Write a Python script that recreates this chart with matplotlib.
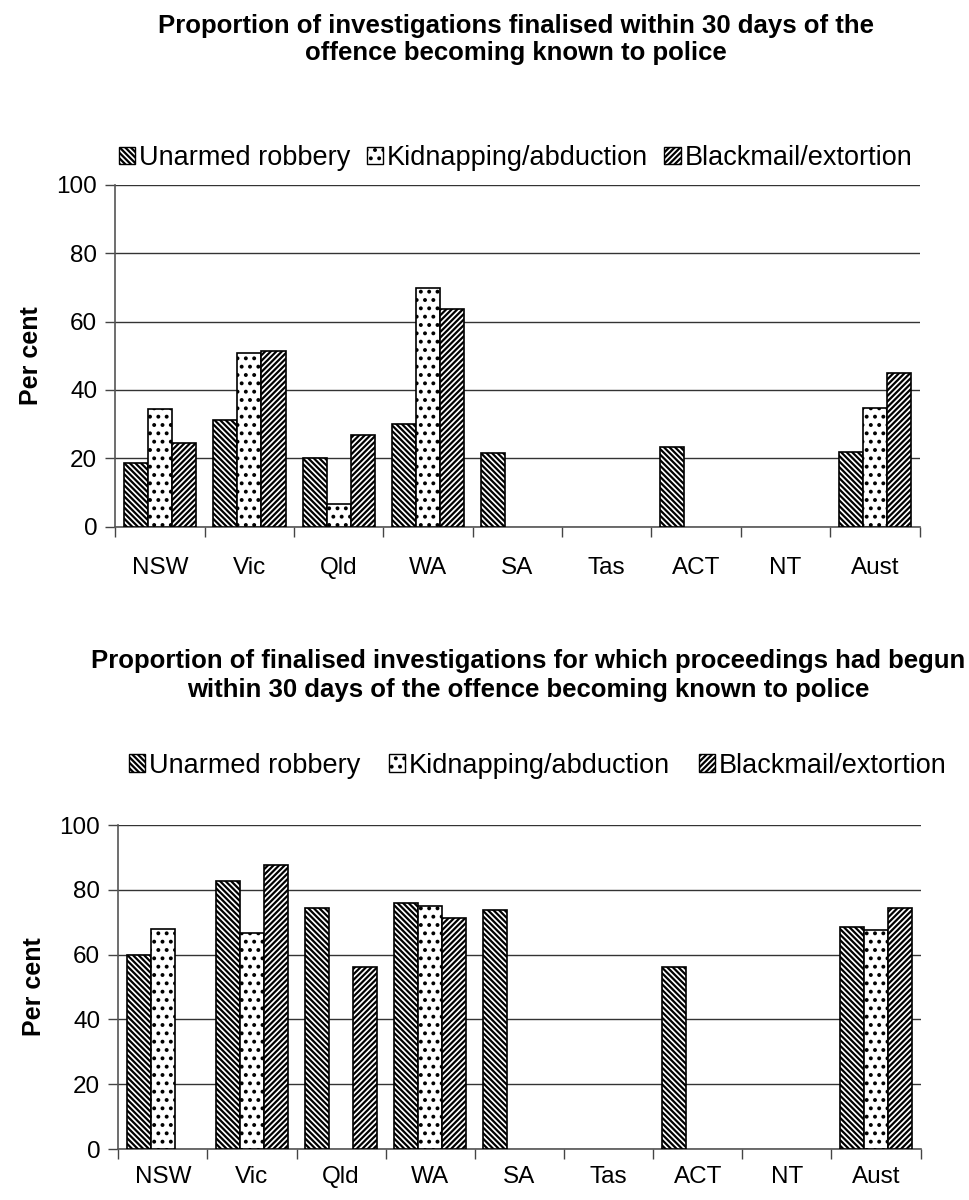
import numpy as np
import matplotlib
matplotlib.use("Agg")
import matplotlib.pyplot as plt
from matplotlib.patches import Patch

plt.rcParams["font.family"] = ["Liberation Sans", "DejaVu Sans"]
plt.rcParams["hatch.linewidth"] = 1.6

STATES = ["NSW", "Vic", "Qld", "WA", "SA", "Tas", "ACT", "NT", "Aust"]
SERIES = ["Unarmed robbery", "Kidnapping/abduction", "Blackmail/extortion"]
HATCHES = ["\\\\\\\\\\\\", "..", "//////"]

nan = np.nan

# proportion of investigations finalised within 30 days
finalised_unarmed = [18.8, 31.2, 20.2, 30.0, 21.5, nan, 23.4, nan, 22.0]
finalised_kidnap = [34.3, 50.9, 6.8, 69.8, nan, nan, nan, nan, 34.7]
finalised_blackmail = [24.4, 51.3, 26.8, 63.6, nan, nan, nan, nan, 44.9]

# proportion of finalised investigations with proceedings begun within 30 days
proceedings_unarmed = [59.8, 82.6, 74.5, 75.9, 73.7, nan, 56.2, nan, 68.4]
proceedings_kidnap = [67.8, 66.6, nan, 74.9, nan, nan, nan, nan, 67.5]
proceedings_blackmail = [nan, 87.6, 56.2, 71.4, nan, nan, nan, nan, 74.3]

TITLE_TOP = "Proportion of investigations finalised within 30 days of the\noffence becoming known to police"
TITLE_BOTTOM = ("Proportion of finalised investigations for which proceedings had begun\n"
                "within 30 days of the offence becoming known to police")


def draw_panel(ax, data, label_pad):
    x = np.arange(len(STATES))
    width = 0.27
    for i, (vals, hatch) in enumerate(zip(data, HATCHES)):
        ax.bar(x + (i - 1) * width, vals, width, facecolor="white",
               edgecolor="black", linewidth=1.2, hatch=hatch, zorder=3)
    ax.set_xlim(-0.5, len(STATES) - 0.5)
    ax.set_ylim(0, 100)
    ax.set_yticks(range(0, 101, 20))
    ax.set_xticks(x)
    ax.set_xticklabels(STATES, fontsize=17.5)
    ax.set_xticks(np.arange(-0.5, len(STATES)), minor=True)
    ax.tick_params(axis="x", which="major", length=0, pad=label_pad)
    ax.tick_params(axis="x", which="minor", length=7, width=1, color="#444444")
    ax.tick_params(axis="y", labelsize=17.5, length=7, width=1, color="#444444", pad=6)
    ax.yaxis.grid(True, color="#333333", linewidth=1.0, zorder=0)
    ax.set_axisbelow(True)
    for side in ["top", "right"]:
        ax.spines[side].set_visible(False)
    for side in ["left", "bottom"]:
        ax.spines[side].set_color("#555555")
        ax.spines[side].set_linewidth(1.2)
    ax.set_ylabel("Per cent", fontsize=18, fontweight="bold", labelpad=10)

    handles = [Patch(facecolor="white", edgecolor="black", hatch=h, label=s)
               for s, h in zip(SERIES, HATCHES)]
    return handles


fig = plt.figure(figsize=(9.69, 12), dpi=100)

ax1 = fig.add_axes([0.119, 0.561, 0.830, 0.285])
h = draw_panel(ax1, [finalised_unarmed, finalised_kidnap, finalised_blackmail], 22)
fig.text(0.532, 0.988, TITLE_TOP, ha="center", va="top", fontsize=18.5,
         fontweight="bold", linespacing=1.15)
fig.legend(handles=h, loc="center", bbox_to_anchor=(0.532, 0.868), ncol=3,
           frameon=False, fontsize=19.5, handlelength=0.6, handleheight=0.6,
           handletextpad=0.15, columnspacing=0.6)

ax2 = fig.add_axes([0.122, 0.0425, 0.828, 0.27])
h = draw_panel(ax2, [proceedings_unarmed, proceedings_kidnap, proceedings_blackmail], 12)
fig.text(0.545, 0.459, TITLE_BOTTOM, ha="center", va="top", fontsize=18.5,
         fontweight="bold", linespacing=1.25)
fig.legend(handles=h, loc="center", bbox_to_anchor=(0.555, 0.362), ncol=3,
           frameon=False, fontsize=19.5, handlelength=0.6, handleheight=0.6,
           handletextpad=0.15, columnspacing=1.05)

fig.savefig("out.png", dpi=100, facecolor="white")
